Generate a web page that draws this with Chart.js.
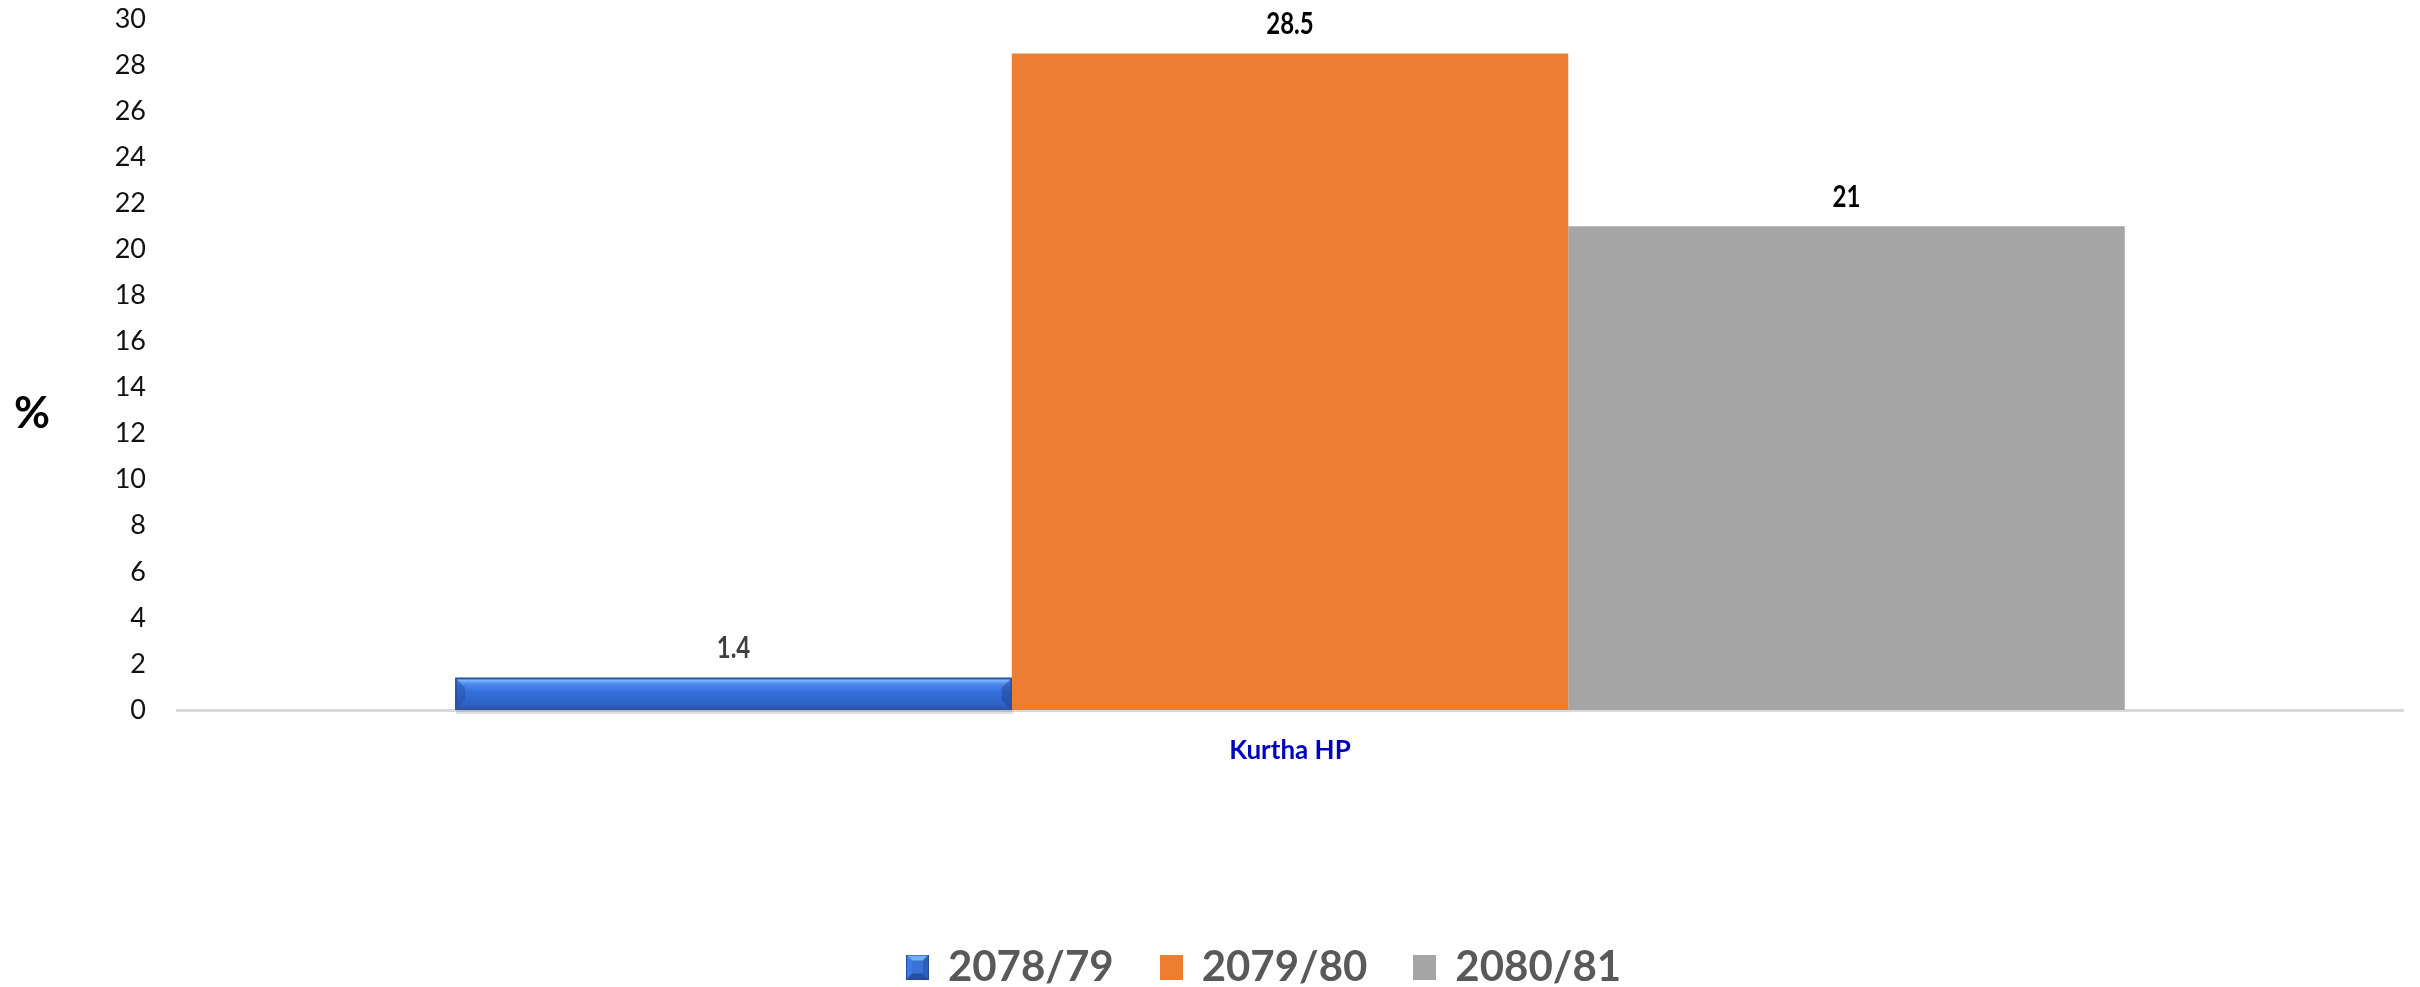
<!DOCTYPE html>
<html>
<head>
<meta charset="utf-8">
<script src="https://cdn.jsdelivr.net/npm/chart.js@4.4.1/dist/chart.umd.min.js"></script>
<style>
  html, body { margin: 0; padding: 0; background: #ffffff; }
  #wrap { width: 2420px; height: 987px; }
</style>
</head>
<body>
<div id="wrap"><canvas id="c" width="2420" height="987"></canvas></div>
<script>
// ---- data ----
const categories = ['Kurtha HP'];
const seriesNames = ['2078/79', '2079/80', '2080/81'];
const values2078 = [1.4];
const values2079 = [28.5];
const values2080 = [21];
const yTicks = [0, 2, 4, 6, 8, 10, 12, 14, 16, 18, 20, 22, 24, 26, 28, 30];
const axisTitle = '%';

// ---- styles ----
const colors = ['#3469d0', '#ED7D31', '#A5A5A5'];
const labelColors = ['#404040', '#000000', '#000000'];

function legendIcon(kind) {
  const c = document.createElement('canvas');
  const w = 23, h = 25;
  c.width = w; c.height = h;
  const g = c.getContext('2d');
  if (kind === 0) {
    const i = 6;
    g.fillStyle = '#3a72d8'; g.fillRect(0, 0, w, h);
    g.fillStyle = '#74aef7';
    g.beginPath(); g.moveTo(0,0); g.lineTo(w,0); g.lineTo(w-i,i); g.lineTo(i,i); g.closePath(); g.fill();
    g.fillStyle = '#23509f';
    g.beginPath(); g.moveTo(0,h); g.lineTo(w,h); g.lineTo(w-i,h-i); g.lineTo(i,h-i); g.closePath(); g.fill();
    g.fillStyle = '#3f7be0';
    g.beginPath(); g.moveTo(0,0); g.lineTo(i,i); g.lineTo(i,h-i); g.lineTo(0,h); g.closePath(); g.fill();
    g.fillStyle = '#2c5fc0';
    g.beginPath(); g.moveTo(w,0); g.lineTo(w-i,i); g.lineTo(w-i,h-i); g.lineTo(w,h); g.closePath(); g.fill();
    g.strokeStyle = '#24489a'; g.lineWidth = 1; g.strokeRect(0.5, 0.5, w-1, h-1);
  } else {
    g.fillStyle = colors[kind]; g.fillRect(0, 0, w, h);
  }
  return c;
}

const valueLists = [values2078, values2079, values2080];
const datasets = seriesNames.map((name, i) => ({
  label: name,
  data: valueLists[i],
  backgroundColor: colors[i],
  borderWidth: 0,
  pointStyle: legendIcon(i),
  barPercentage: 1.0,
  categoryPercentage: 0.75
}));

const decorPlugin = {
  id: 'decor',
  afterLayout(chart) {
    if (chart.legend) { chart.legend.left += 18; chart.legend.right += 18; }
  },
  afterDatasetDraw(chart, args) {
    if (args.index !== 0) return;
    const ctx = chart.ctx;
    args.meta.data.forEach(el => {
      const x0 = el.x - el.width / 2, x1 = el.x + el.width / 2;
      const y0 = Math.min(el.y, el.base), y1 = Math.max(el.y, el.base);
      const h = y1 - y0;
      ctx.save();
      ctx.fillStyle = 'rgba(0,0,0,0.12)';
      ctx.fillRect(x0 + 1, y1, x1 - x0, 4);
      const gr = ctx.createLinearGradient(0, y0, 0, y1);
      gr.addColorStop(0, '#4f8ee8');
      gr.addColorStop(0.08, '#7ab4fa');
      gr.addColorStop(0.2, '#4c88ec');
      gr.addColorStop(0.45, '#3570da');
      gr.addColorStop(0.8, '#2f62c6');
      gr.addColorStop(1, '#2a56ad');
      ctx.fillStyle = gr;
      ctx.fillRect(x0, y0, x1 - x0, h);
      const b = Math.min(10, h / 2);
      ctx.fillStyle = 'rgba(40,80,170,0.55)';
      ctx.beginPath(); ctx.moveTo(x0, y0); ctx.lineTo(x0 + b, y0 + b); ctx.lineTo(x0 + b, y1 - b); ctx.lineTo(x0, y1); ctx.closePath(); ctx.fill();
      ctx.fillStyle = 'rgba(30,60,140,0.45)';
      ctx.beginPath(); ctx.moveTo(x1, y0); ctx.lineTo(x1 - b, y0 + b); ctx.lineTo(x1 - b, y1 - b); ctx.lineTo(x1, y1); ctx.closePath(); ctx.fill();
      ctx.strokeStyle = '#2a4f9e';
      ctx.lineWidth = 1.5;
      ctx.strokeRect(x0 + 0.75, y0 + 0.75, x1 - x0 - 1.5, h - 1.5);
      ctx.restore();
    });
  },
  afterDatasetsDraw(chart) {
    const ctx = chart.ctx;
    ctx.save();
    ctx.textAlign = 'center';
    ctx.textBaseline = 'middle';
    chart.data.datasets.forEach((ds, i) => {
      const meta = chart.getDatasetMeta(i);
      meta.data.forEach((el, j) => {
        const v = ds.data[j];
        ctx.save();
        ctx.translate(el.x, el.y - 29);
        ctx.scale(0.8, 1);
        ctx.font = 'bold 30px Lato, "Open Sans", sans-serif';
        ctx.fillStyle = labelColors[i];
        ctx.fillText(String(v), 0, 0);
        ctx.restore();
      });
    });
    const area = chart.chartArea;
    ctx.font = 'bold 44px Lato, "Open Sans", sans-serif';
    ctx.fillStyle = '#000000';
    ctx.textAlign = 'center';
    ctx.fillText(axisTitle, 32, area.top + (area.bottom - area.top) * 0.572);
    ctx.restore();
  }
};

new Chart(document.getElementById('c'), {
  type: 'bar',
  data: { labels: categories, datasets },
  options: {
    responsive: false,
    animation: false,
    devicePixelRatio: 1,
    layout: { padding: { left: 90, right: 17, top: 19, bottom: -11 } },
    plugins: {
      tooltip: { enabled: false },
      legend: {
        position: 'bottom',
        labels: {
          usePointStyle: true,
          boxWidth: 19,
          boxHeight: 25,
          pointStyleWidth: 19,
          padding: 48,
          color: '#595959',
          font: { family: 'Lato, "Open Sans", sans-serif', size: 42, weight: 'bold' }
        }
      }
    },
    scales: {
      x: {
        grid: { display: false, drawTicks: false },
        border: { display: true, color: '#d9d9d9', width: 3 },
        ticks: {
          padding: 25,
          color: '#0000c0',
          font: { family: 'Lato, "Open Sans", sans-serif', size: 26, weight: 'bold' }
        },
        afterFit(s) { s.height = 188; }
      },
      y: {
        min: 0,
        max: 30,
        afterBuildTicks(s) { s.ticks = yTicks.map(v => ({ value: v })); },
        grid: { display: false, drawTicks: true, tickLength: 31 },
        border: { display: false },
        ticks: {
          padding: 0,
          color: '#111111',
          font: { family: 'Lato, "Open Sans", sans-serif', size: 27 }
        },
        afterFit(s) { s.width = 87; }
      }
    }
  },
  plugins: [decorPlugin]
});
</script>
</body>
</html>
